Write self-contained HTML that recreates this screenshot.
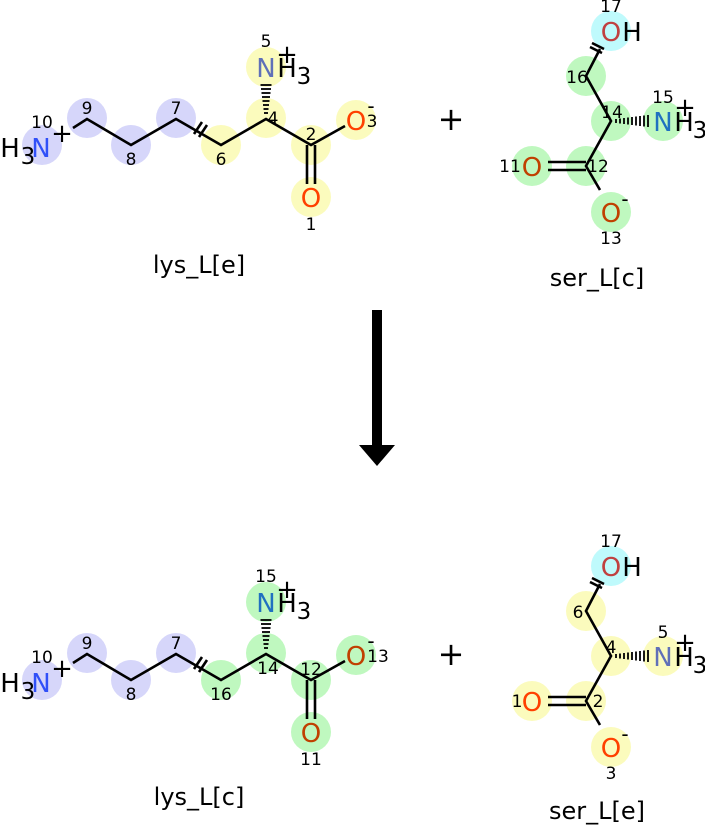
<!DOCTYPE html>
<html><head><meta charset="utf-8"><style>
html,body{margin:0;padding:0;background:#fff;}
svg{display:block;font-family:"DejaVu Sans","Liberation Sans",sans-serif;}
.n{font-size:17px;fill:#000;text-anchor:middle;}
.a{font-size:26px;text-anchor:middle;}
.s{font-size:23px;}
.m{font-size:20px;}
.b{stroke:#000;stroke-width:2.6;fill:none;}
.lbl{font-size:24px;text-anchor:middle;}
</style></head><body>
<svg width="705" height="826" viewBox="0 0 705 826" xmlns="http://www.w3.org/2000/svg">
<defs>
<g id="lysbonds">
  <polyline class="b" points="73,128 87,119 131,145 176,119 221,145 266,119 311,145 345,126"/>
  <line class="b" x1="307" y1="145" x2="307" y2="184"/>
  <line class="b" x1="315" y1="145" x2="315" y2="184"/>
  <line class="b" x1="194" y1="134" x2="202" y2="122"/>
  <line class="b" x1="199" y1="137" x2="207" y2="125"/>
  <g stroke="#000" stroke-width="1.8">
    <line x1="264" y1="113" x2="268" y2="113"/>
    <line x1="263.5" y1="109" x2="268.5" y2="109"/>
    <line x1="263" y1="105" x2="269" y2="105"/>
    <line x1="262.5" y1="101" x2="269.5" y2="101"/>
    <line x1="262" y1="97" x2="270" y2="97"/>
    <line x1="261.5" y1="93" x2="270.5" y2="93"/>
    <line x1="261" y1="89" x2="271" y2="89"/>
    <line x1="260.5" y1="85" x2="271.5" y2="85"/>
  </g>
</g>
<g id="serbonds">
  <polyline class="b" points="600,49 586,76 611,121 586,166 600,190"/>
  <line class="b" x1="586" y1="162" x2="548" y2="162"/>
  <line class="b" x1="586" y1="170" x2="548" y2="170"/>
  <line class="b" x1="590" y1="47" x2="602" y2="53"/>
  <line class="b" x1="592" y1="43" x2="604" y2="49"/>
  <g stroke="#000" stroke-width="1.8">
    <line x1="616" y1="119" x2="616" y2="123"/>
    <line x1="620" y1="118.5" x2="620" y2="123.5"/>
    <line x1="624" y1="118" x2="624" y2="124"/>
    <line x1="628" y1="117.5" x2="628" y2="124.5"/>
    <line x1="632" y1="117" x2="632" y2="125"/>
    <line x1="636" y1="116.5" x2="636" y2="125.5"/>
    <line x1="640" y1="116" x2="640" y2="126"/>
    <line x1="644" y1="115.5" x2="644" y2="126.5"/>
    <line x1="648" y1="115" x2="648" y2="127"/>
  </g>
</g>
</defs>

<!-- TOP lys -->
<g>
  <g fill="#d6d6fa"><circle cx="42" cy="145" r="20"/><circle cx="87" cy="118" r="20"/><circle cx="131" cy="145" r="20"/><circle cx="176" cy="118" r="20"/></g>
  <g fill="#fbfbbd"><circle cx="221" cy="145" r="20"/><circle cx="266" cy="118" r="20"/><circle cx="266" cy="67" r="20"/><circle cx="311" cy="145" r="20"/><circle cx="356" cy="120" r="20"/><circle cx="311" cy="197" r="20"/></g>
  <use href="#lysbonds"/>
  <text x="10" y="157" class="a" fill="#000">H</text><text x="28" y="164" class="a s" fill="#000">3</text><text x="41" y="157" class="a" fill="#3050f8">N</text><text x="62" y="142" class="a" fill="#000">+</text>
  <text x="266" y="77" class="a" fill="#6070b8">N</text><text x="287" y="77" class="a" fill="#000">H</text><text x="304" y="84" class="a s" fill="#000">3</text><text x="287" y="63" class="a" fill="#000">+</text>
  <text x="356" y="130" class="a" fill="#ff4000">O</text><text x="371" y="113" class="a m">-</text>
  <text x="311" y="207" class="a" fill="#ff4000">O</text>
  <text class="n" x="42" y="128">10</text><text class="n" x="87" y="114">9</text><text class="n" x="131" y="165">8</text><text class="n" x="176" y="114">7</text><text class="n" x="221" y="165">6</text><text class="n" x="273" y="124">4</text><text class="n" x="266" y="47">5</text><text class="n" x="311" y="140">2</text><text class="n" x="372" y="127">3</text><text class="n" x="311" y="230">1</text>
  <text class="lbl" x="199" y="273">lys_L[e]</text>
</g>

<!-- TOP ser -->
<g>
  <circle cx="611" cy="31" r="20" fill="#bffafc"/>
  <g fill="#bff8bf"><circle cx="586" cy="76" r="20"/><circle cx="611" cy="121" r="20"/><circle cx="663" cy="121" r="20"/><circle cx="586" cy="166" r="20"/><circle cx="532" cy="166" r="20"/><circle cx="611" cy="212" r="20"/></g>
  <use href="#serbonds"/>
  <text x="611" y="41" class="a" fill="#c04040">O</text><text x="632" y="41" class="a" fill="#000">H</text>
  <text x="663" y="131" class="a" fill="#2070c0">N</text><text x="684" y="131" class="a">H</text><text x="700" y="138" class="a s">3</text><text x="685" y="116" class="a">+</text>
  <text x="532" y="176" class="a" fill="#c04000">O</text>
  <text x="611" y="222" class="a" fill="#c04000">O</text><text x="625" y="206" class="a m">-</text>
  <text class="n" x="611" y="12">17</text><text class="n" x="577" y="83">16</text><text class="n" x="612" y="118">14</text><text class="n" x="663" y="103">15</text><text class="n" x="598" y="172">12</text><text class="n" x="510" y="172">11</text><text class="n" x="611" y="244">13</text>
  <text class="lbl" x="597" y="286">ser_L[c]</text>
</g>

<text x="451" y="130" class="a" style="font-size:32px">+</text>
<rect x="372" y="310" width="10" height="137" fill="#000"/>
<polygon points="359,445 395,445 377,466" fill="#000"/>

<!-- BOTTOM lys -->
<g transform="translate(0,535)">
  <g fill="#d6d6fa"><circle cx="42" cy="145" r="20"/><circle cx="87" cy="118" r="20"/><circle cx="131" cy="145" r="20"/><circle cx="176" cy="118" r="20"/></g>
  <g fill="#bff8bf"><circle cx="221" cy="145" r="20"/><circle cx="266" cy="118" r="20"/><circle cx="266" cy="67" r="20"/><circle cx="311" cy="145" r="20"/><circle cx="356" cy="120" r="20"/><circle cx="311" cy="197" r="20"/></g>
  <use href="#lysbonds"/>
  <text x="10" y="157" class="a" fill="#000">H</text><text x="28" y="164" class="a s" fill="#000">3</text><text x="41" y="157" class="a" fill="#3050f8">N</text><text x="62" y="142" class="a" fill="#000">+</text>
  <text x="266" y="77" class="a" fill="#2070c0">N</text><text x="287" y="77" class="a" fill="#000">H</text><text x="304" y="84" class="a s" fill="#000">3</text><text x="287" y="63" class="a" fill="#000">+</text>
  <text x="356" y="130" class="a" fill="#c04000">O</text><text x="371" y="113" class="a m">-</text>
  <text x="311" y="207" class="a" fill="#c04000">O</text>
  <text class="n" x="42" y="128">10</text><text class="n" x="87" y="114">9</text><text class="n" x="131" y="165">8</text><text class="n" x="176" y="114">7</text><text class="n" x="221" y="165">16</text><text class="n" x="268" y="139">14</text><text class="n" x="266" y="47">15</text><text class="n" x="311" y="140">12</text><text class="n" x="378" y="127">13</text><text class="n" x="311" y="230">11</text>
  <text class="lbl" x="199" y="270">lys_L[c]</text>
</g>

<!-- BOTTOM ser -->
<g transform="translate(0,535)">
  <circle cx="611" cy="31" r="20" fill="#bffafc"/>
  <g fill="#fbfbbd"><circle cx="586" cy="76" r="20"/><circle cx="611" cy="121" r="20"/><circle cx="663" cy="121" r="20"/><circle cx="586" cy="166" r="20"/><circle cx="532" cy="166" r="20"/><circle cx="611" cy="212" r="20"/></g>
  <use href="#serbonds"/>
  <text x="611" y="41" class="a" fill="#c04040">O</text><text x="632" y="41" class="a" fill="#000">H</text>
  <text x="663" y="131" class="a" fill="#6070b8">N</text><text x="684" y="131" class="a">H</text><text x="700" y="138" class="a s">3</text><text x="685" y="116" class="a">+</text>
  <text x="532" y="176" class="a" fill="#ff4000">O</text>
  <text x="611" y="222" class="a" fill="#ff4000">O</text><text x="625" y="206" class="a m">-</text>
  <text class="n" x="611" y="12">17</text><text class="n" x="578" y="83">6</text><text class="n" x="611" y="118">4</text><text class="n" x="663" y="103">5</text><text class="n" x="598" y="172">2</text><text class="n" x="517" y="172">1</text><text class="n" x="611" y="244">3</text>
  <text class="lbl" x="597" y="284">ser_L[e]</text>
</g>

<text x="451" y="665" class="a" style="font-size:32px">+</text>
</svg>
</body></html>
